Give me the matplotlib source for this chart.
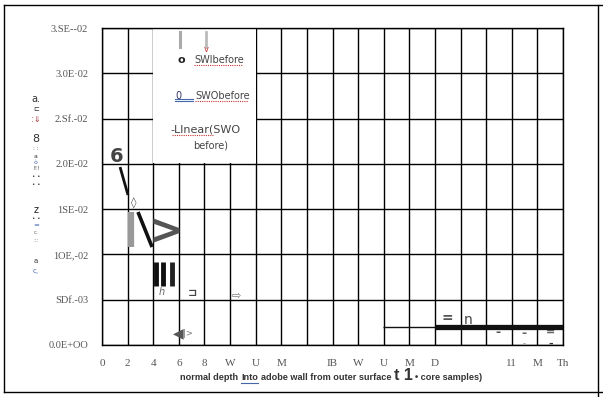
import matplotlib
matplotlib.use("Agg")
import matplotlib.pyplot as plt
from matplotlib.patches import Rectangle
from matplotlib.lines import Line2D

# ---- data ----
x_ticks = list(range(0, 38, 2))
x_tick_labels = ["0", "2", "4", "6", "8", "W", "U", "M", "", "IB", "W", "U", "M", "D", "", "", "11", "M", "Th"]
y_ticks = [0.0, 0.005, 0.010, 0.015, 0.020, 0.025, 0.030, 0.035]
y_tick_labels = ["0.0E+OO", "SDf.-03", "1OE,-02", "1SE-02", "2.0E-02", "2.Sf.-02", "3.0E·02", "3.SE--02"]

# glyph-like data marks (label, x, y, size, colour, weight)
glyph_text = ["6", "◊", ">", "h", "⊐", "⇨", "◀", "|>", "=", "n", "-", "-", "-", "=", "-"]
glyph_x = [1.17, 2.5, 5.0, 4.7, 7.1, 10.5, 5.95, 6.75, 27.0, 28.6, 30.9, 32.97, 32.97, 35.0, 35.0]
glyph_y = [0.0208, 0.0156, 0.0124, 0.0058, 0.0057, 0.0055, 0.0013, 0.0013, 0.0030, 0.0028, 0.0014, 0.0013, 0.0002, 0.0015, 0.0001]
glyph_size = [14, 8, 30, 7, 8, 8, 10, 6, 10, 10, 9, 9, 6, 8, 8]
glyph_color = ["#444444", "#555555", "#555555", "#666666", "#444444", "#777777", "#555555", "#777777",
               "#555555", "#444444", "#555555", "#666666", "#888888", "#666666", "#333333"]
glyph_weight = ["bold", "normal", "bold", "normal", "bold", "normal", "normal", "normal",
                "bold", "normal", "bold", "bold", "normal", "bold", "bold"]

# stroke marks (x0, x1, y0, y1, width, colour)
stroke_x0 = [1.41, 2.27, 2.81, 4.22, 4.77, 5.50, 21.95, 26.0]
stroke_x1 = [2.03, 2.27, 3.91, 4.22, 4.77, 5.50, 26.0, 36.0]
stroke_y0 = [0.01965, 0.01468, 0.01468, 0.0092, 0.0092, 0.0092, 0.00204, 0.00204]
stroke_y1 = [0.01656, 0.01082, 0.01082, 0.0065, 0.0065, 0.0065, 0.00204, 0.00204]
stroke_w = [2.0, 4.5, 2.6, 3.5, 3.5, 3.5, 1.0, 3.8]
stroke_c = ["#111111", "#999999", "#111111", "#111111", "#111111", "#222222", "#111111", "#111111"]

W, H = 603, 397
fig = plt.figure(figsize=(W / 100, H / 100), dpi=100)
fig.patch.set_facecolor("white")

def fx(px):
    return px / W

def fy(py):
    return 1 - py / H

ax = fig.add_axes([fx(102), fy(345), fx(563) - fx(102), fy(28) - fy(345)])
ax.set_xlim(0, 36)
ax.set_ylim(0, 0.035)
ax.set_xticks(x_ticks)
ax.set_xticklabels(x_tick_labels, fontfamily="Liberation Serif", fontsize=8, color="#555555")
ax.set_yticks(y_ticks)
ax.set_yticklabels(y_tick_labels, fontfamily="Liberation Serif", fontsize=7.5, color="#555555")
ax.tick_params(length=0, pad=10)
ax.grid(True, color="black", linewidth=1.0)
ax.set_axisbelow(True)
for s in ax.spines.values():
    s.set_linewidth(1.0)
    s.set_color("black")

# legend box (white, no border) covering part of grid
ax.add_patch(Rectangle((4.0, 0.0201), 8.0, 0.0149, facecolor="white", edgecolor="none", zorder=2))

for t, x, y, s, c, w in zip(glyph_text, glyph_x, glyph_y, glyph_size, glyph_color, glyph_weight):
    ax.text(x, y, t, fontsize=s, color=c, fontweight=w, ha="center", va="center", zorder=4,
            family=["DejaVu Sans"], style="italic" if t == "h" else "normal")

for x0, x1, y0, y1, w, c in zip(stroke_x0, stroke_x1, stroke_y0, stroke_y1, stroke_w, stroke_c):
    ax.plot([x0, x1], [y0, y1], color=c, linewidth=w, solid_capstyle="butt", zorder=4)

# legend content (figure coordinates)
fig.add_artist(Line2D([fx(180), fx(180)], [fy(32), fy(47)], color="#aaaaaa", lw=2.2))
fig.add_artist(Line2D([fx(206), fx(206)], [fy(32), fy(47)], color="#bbbbbb", lw=2.0))
fig.text(fx(206), fy(49), "v", fontsize=6, color="#cc3333", ha="center", va="center")
fig.text(fx(181), fy(60), "o", fontsize=8, fontweight="bold", color="#222222", ha="center", va="center")
fig.text(fx(194), fy(60), "SWlbefore", fontsize=7, color="#444444", ha="left", va="center")
fig.add_artist(Line2D([fx(194), fx(242)], [fy(65), fy(65)], color="#cc3333", lw=0.8, ls=(0, (1, 1))))
fig.text(fx(175), fy(96), "0", fontsize=7, color="#333366", ha="left", va="center")
fig.add_artist(Line2D([fx(175), fx(193)], [fy(99), fy(99)], color="#4466aa", lw=0.8))
fig.add_artist(Line2D([fx(175), fx(193)], [fy(101), fy(101)], color="#4466aa", lw=0.8))
fig.text(fx(195), fy(96), "SWObefore", fontsize=7, color="#444444", ha="left", va="center")
fig.add_artist(Line2D([fx(195), fx(248)], [fy(101), fy(101)], color="#cc3333", lw=0.8, ls=(0, (1, 1))))
fig.text(fx(170), fy(130), "-Llnear(SWO", fontsize=8, color="#444444", ha="left", va="center")
fig.add_artist(Line2D([fx(172), fx(213)], [fy(135), fy(135)], color="#cc3333", lw=0.8, ls=(0, (1, 1))))
fig.text(fx(211), fy(145), "before)", fontsize=7, color="#444444", ha="center", va="center")

# x axis label: chained pieces
renderer = fig.canvas.get_renderer()
pieces = [("normal depth", 6.6, 377, 3), ("Into", 6.6, 377, 3), ("adobe wall from outer surface", 6.6, 377, 3),
          ("t 1", 11.5, 375, 2), ("• core samples)", 6.6, 377, 0)]
cur = 180.0
for t, s, py, gap in pieces:
    txt = fig.text(fx(cur), fy(py), t, fontsize=s, fontweight="bold", color="#333333", ha="left", va="center",
                   family=["Liberation Sans"])
    bb = txt.get_window_extent(renderer=renderer)
    if t == "Into":
        fig.add_artist(Line2D([fx(cur), fx(cur + bb.width)], [fy(383), fy(383)], color="#4466aa", lw=0.8))
    cur += bb.width + gap

# garbled y-axis label glyphs
ylab = [("a.", 99, 7, "#333333"), ("⊏", 109, 5, "#333333"), (":⇓", 119, 6, "#aa4444"),
        ("8", 139, 8, "#333333"), (": :", 149, 4, "#555555"), ("a", 156, 4.5, "#333333"),
        ("ò", 162, 4.5, "#4466aa"), ("!!!", 169, 4.5, "#555555"), ("• •", 177, 4, "#333333"),
        ("• •", 185, 4, "#333333"), ("z", 210, 7, "#222222"), ("• •", 219, 4, "#333333"),
        ("=", 225, 5, "#4466aa"), ("c,", 232, 4, "#666666"), (":::", 240, 4, "#888888"),
        ("a", 261, 5, "#333333"), ("c,", 271, 5, "#4466aa")]
for t, py, s, c in ylab:
    fig.text(fx(36), fy(py), t, fontsize=s, color=c, ha="center", va="center", family=["DejaVu Sans"])

# outer frame
fig.add_artist(Line2D([fx(4), fx(603)], [fy(5), fy(5)], color="black", lw=1))
fig.add_artist(Line2D([fx(4), fx(4)], [fy(5), fy(392)], color="black", lw=1))
fig.add_artist(Line2D([fx(4), fx(603)], [fy(392), fy(392)], color="black", lw=1))
fig.add_artist(Line2D([fx(598), fx(598)], [fy(5), fy(397)], color="black", lw=1))

fig.savefig("out.png", dpi=100, facecolor="white")
